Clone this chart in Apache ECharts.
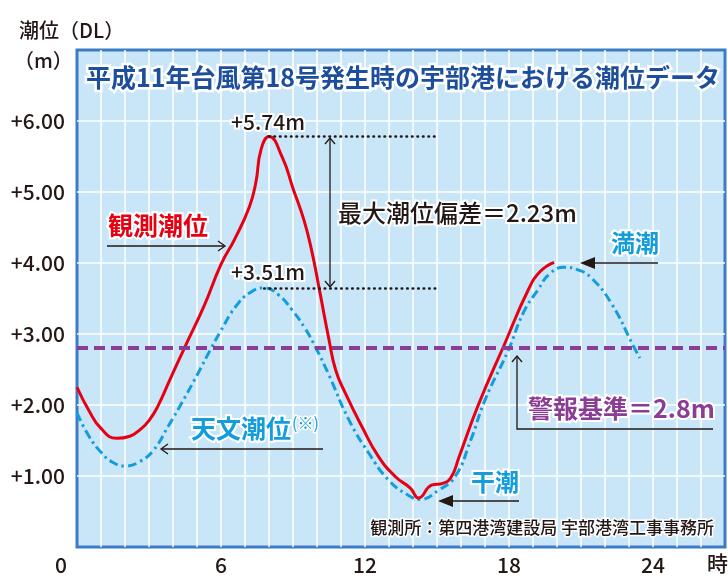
<!DOCTYPE html>
<html><head><meta charset="utf-8">
<script src="https://cdn.jsdelivr.net/npm/echarts@6/dist/echarts.min.js"></script>
<style>html,body{margin:0;padding:0;background:#fff}#c{width:728px;height:579px}</style>
</head><body><div id="c"></div>
<script>
// 観測潮位 [時, m]
const observedTide = [
  [0,2.25],[0.5,1.92],[1.0,1.67],[1.65,1.53],[2.2,1.56],[2.65,1.66],[3.0,1.78],[3.35,1.97],[3.9,2.38],
  [4.5,2.82],[5.3,3.4],[6.0,3.98],[6.56,4.33],[7.18,4.79],[7.45,5.13],[7.67,5.6],[8.0,5.78],
  [8.55,5.49],[9.0,5.05],[9.46,4.6],[9.8,4.14],[10.08,3.66],[10.5,2.92],[10.78,2.49],
  [11.19,2.16],[11.88,1.69],[12.57,1.27],[13.27,0.99],[13.89,0.83],[14.23,0.69],[14.77,0.87],
  [15.27,0.9],[15.6,0.99],[15.9,1.25],[16.72,2.0],[17.83,2.87],[18.8,3.62],[19.3,3.88],[19.88,4.01]
];
// 天文潮位 [時, m]
const astroTide = [
  [0,1.89],[0.5,1.56],[1.04,1.32],[1.5,1.19],[2.0,1.14],[2.6,1.2],[3.2,1.37],[3.8,1.7],
  [4.4,2.05],[5.0,2.42],[5.59,2.8],[6.0,3.05],[6.6,3.38],[7.2,3.58],[7.8,3.65],[8.4,3.55],
  [8.96,3.34],[9.5,3.08],[9.96,2.8],[10.5,2.42],[11.33,1.79],[12.16,1.32],[12.99,0.94],
  [13.8,0.73],[14.3,0.67],[15.06,0.8],[15.75,0.99],[16.4,1.5],[17.0,2.07],[17.97,2.77],
  [18.6,3.3],[19.2,3.62],[19.7,3.85],[20.3,3.94],[20.9,3.9],[21.4,3.8],[22.25,3.44],
  [23.2,2.82],[23.45,2.66]
];
const xTickLabels = [0, 6, 12, 18, 24];
const yTickLabels = ['+1.00','+2.00','+3.00','+4.00','+5.00','+6.00'];
const warningLevel = 2.8;
const observedPeak = [8.0, 5.78];
const astroPeak = [7.8, 3.65];
const dottedEnd = 15.08;

const F = '"Noto Sans CJK JP", "Noto Sans", sans-serif';
const DARK = '#231815';
const RED = '#e60012';
const BLUE = '#139ddd';
const PURPLE = '#8b3d96';

function txt(text, x, y, size, fill, opts) {
  opts = opts || {};
  return {
    type: 'text', z: 100,
    style: {
      text: text, x: x, y: y,
      font: (opts.weight || 'normal') + ' ' + size + 'px ' + F,
      fill: fill, stroke: opts.stroke === undefined ? '#fff' : opts.stroke,
      lineWidth: opts.lw === undefined ? 4 : opts.lw,
      strokeFirst: true,
      align: opts.align || 'left', verticalAlign: 'middle'
    }
  };
}
function line(points, color, w, fillShape) {
  if (fillShape) {
    return { type: 'polygon', z: 100, shape: { points: points }, style: { fill: color } };
  }
  return { type: 'polyline', z: 100, shape: { points: points }, style: { stroke: color, lineWidth: w, fill: null } };
}

const chart = echarts.init(document.getElementById('c'));
chart.setOption({
  animation: false,
  grid: { left: 77, right: 1, top: 50, bottom: 32, show: true,
          backgroundColor: '#c8e6f8', borderColor: '#3d7cc4', borderWidth: 3 },
  xAxis: {
    type: 'value', min: 0, max: 27, interval: 1,
    axisLine: { show: false }, axisTick: { show: false },
    splitLine: { show: true, showMinLine: false, showMaxLine: false, lineStyle: { color: '#fff', width: 1.5 } },
    axisLabel: {
      margin: 8, fontSize: 21, color: DARK, fontFamily: F, fontWeight: 500,
      formatter: function (v) {
        if (xTickLabels.indexOf(v) < 0) return '';
        return v === 0 ? '{z|0}' : String(v);
      },
      rich: { z: { fontSize: 21, color: DARK, fontFamily: F, fontWeight: 500, padding: [0, 32, 0, 0] } }
    }
  },
  yAxis: {
    type: 'value', min: 0, max: 7, interval: 1,
    axisLine: { show: false }, axisTick: { show: false },
    splitLine: { show: true, showMinLine: false, showMaxLine: false, lineStyle: { color: '#fff', width: 1.5 } },
    axisLabel: {
      margin: 12, fontSize: 21, color: DARK, fontFamily: F, fontWeight: 500,
      formatter: function (v) { return (v >= 1 && v <= 6) ? yTickLabels[v - 1] : ''; }
    }
  },
  series: [
    {
      type: 'line', data: [], z: 1, silent: true,
      markLine: {
        silent: true, symbol: 'none', label: { show: false },
        data: [{ yAxis: warningLevel, lineStyle: { color: PURPLE, width: 4, type: [11, 6] } }]
      }
    },
    {
      name: '天文潮位', type: 'line', data: astroTide, smooth: 0.5, symbol: 'none', z: 3,
      lineStyle: { color: BLUE, width: 3, type: [9, 4, 2.5, 4] },
      markLine: {
        silent: true, symbol: 'none', label: { show: false },
        lineStyle: { color: DARK, width: 2.6, type: [0.5, 5], cap: 'round' },
        data: [[{ coord: astroPeak }, { coord: [dottedEnd, astroPeak[1]] }]]
      }
    },
    {
      name: '観測潮位', type: 'line', data: observedTide, smooth: 0.5, symbol: 'none', z: 4,
      lineStyle: { color: RED, width: 3 },
      markLine: {
        silent: true, symbol: 'none', label: { show: false },
        lineStyle: { color: DARK, width: 2.6, type: [0.5, 5], cap: 'round' },
        data: [[{ coord: observedPeak }, { coord: [dottedEnd, observedPeak[1]] }]]
      }
    }
  ],
  graphic: [
    txt('潮位（DL）', 19, 30, 20, DARK, { stroke: null, lw: 0, weight: 500 }),
    txt('（m）', 14, 60, 20, DARK, { stroke: null, lw: 0, weight: 500 }),
    txt('時', 707, 563, 21, DARK, { stroke: null, lw: 0, weight: 500 }),
    txt('平成11年台風第18号発生時の宇部港における潮位データ', 403, 77, 25, '#1d4e9b', { weight: 'bold', lw: 5, align: 'center' }),
    txt('+5.74m', 268, 122, 21, DARK, { align: 'center', weight: 500 }),
    txt('+3.51m', 268, 272, 21, DARK, { align: 'center', weight: 500 }),
    txt('最大潮位偏差＝2.23m', 338, 213, 24, DARK, { weight: 500 }),
    txt('観測潮位', 108, 225, 25, RED, { weight: 'bold' }),
    txt('天文潮位', 191, 428, 25, BLUE, { weight: 'bold' }),
    txt('(※)', 292, 423, 16, BLUE, { lw: 3 }),
    txt('満潮', 611, 243, 24, BLUE, { weight: 'bold' }),
    txt('干潮', 471, 482, 24, BLUE, { weight: 'bold' }),
    txt('警報基準＝2.8m', 528, 408, 25, PURPLE, { weight: 'bold' }),
    txt('観測所：第四港湾建設局 宇部港湾工事事務所', 714, 528, 17, DARK, { align: 'right', lw: 3, weight: 500 }),
    // arrows
    line([[107, 246], [224, 246]], DARK, 1.3),
    line([[218, 241], [225, 246], [218, 251]], DARK, 1.3),
    line([[323, 449], [162, 449]], DARK, 1.3),
    line([[168, 444], [161, 449], [168, 454]], DARK, 1.3),
    line([[658, 263], [590, 263]], DARK, 1.5),
    line([[580, 263], [595, 257], [595, 269]], DARK, 0, true),
    line([[519, 501], [449, 501]], DARK, 1.5),
    line([[438, 501], [453, 495], [453, 507]], DARK, 0, true),
    line([[330, 138], [330, 287]], DARK, 1.3),
    line([[325, 144], [330, 138], [335, 144]], DARK, 1.3),
    line([[325, 281], [330, 287], [335, 281]], DARK, 1.3),
    line([[517, 356], [517, 429], [713, 429]], DARK, 1.3),
    line([[512, 362], [517, 356], [522, 362]], DARK, 1.3)
  ]
});
</script></body></html>
